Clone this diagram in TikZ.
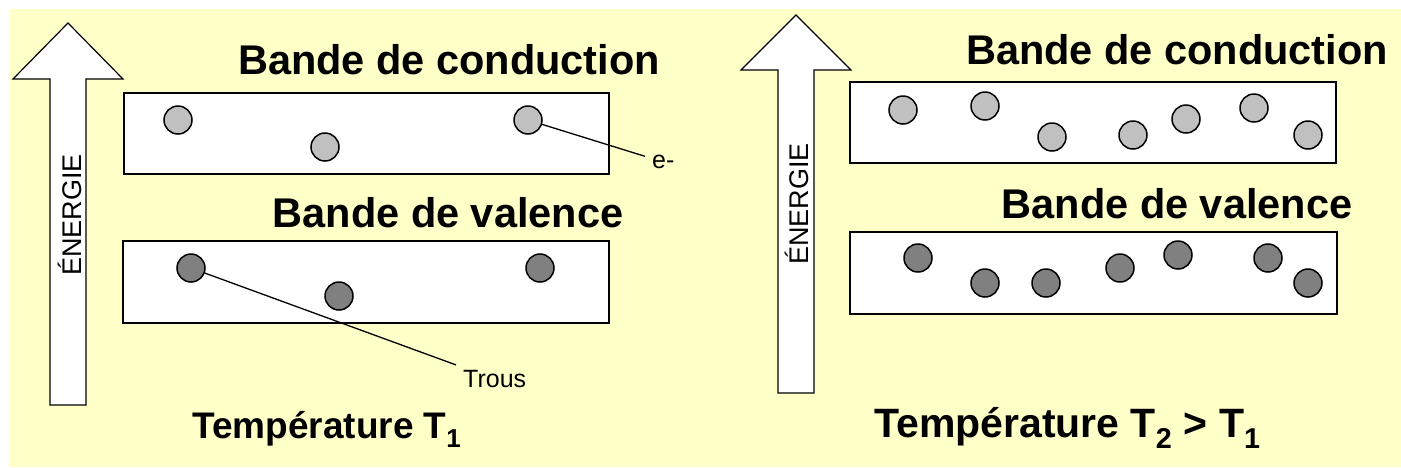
\documentclass[tikz,border=0pt]{standalone}
\usepackage{fontspec}
\setmainfont{Liberation Sans}
\usetikzlibrary{calc}
\definecolor{paper}{HTML}{FFFFC8}
\definecolor{lightgrey}{HTML}{C0C0C0}
\definecolor{darkgrey}{HTML}{808080}
\tikzset{
	band/.style={draw, line width=1.6pt, fill=white},
	electron/.style={circle, draw, line width=1.5pt, fill=lightgrey, minimum size=28pt, inner sep=0pt},
	hole/.style={circle, draw, line width=1.5pt, fill=darkgrey, minimum size=28pt, inner sep=0pt},
	title/.style={font=\fontsize{41.5}{46}\selectfont\bfseries, inner sep=0pt},
	tag/.style={font=\fontsize{25}{28}\selectfont, inner sep=7pt},
	lead/.style={line width=1.3pt}
}
\def\energyarrow(#1,#2,#3,#4){\draw[line width=1.2pt, fill=white] (#1,#2) -- (#1+55,#3) -- (#1+18,#3) -- (#1+18,#4) -- (#1-18,#4) -- (#1-18,#3) -- (#1-55,#3) -- cycle;}

\begin{document}
\begin{tikzpicture}[x=1pt, y=-1pt]
				\useasboundingbox (0, 0) rectangle (1401, 467);
				\fill[white] (0, 0) rectangle (1401, 467);
				\fill[paper] (10, 9) rectangle (1401, 467);
				
				% temperature T1
				\energyarrow(68,23,79,405);
				\node[rotate=90, font=\fontsize{27}{30}\selectfont] (enL) at (70, 215) {ÉNERGIE};
				
				\node[title, anchor=base] (condL) at (449, 74) {Bande de conduction};
				\draw[band] (124, 93) rectangle (609, 174);
				\node[electron] (eL1) at (178, 120) {};
				\node[electron] (eL2) at (325, 147) {};
				\node[electron] (eL3) at (528, 120) {};
				
				\node[title, anchor=base] (valL) at (448, 227) {Bande de valence};
				\draw[band] (123, 241) rectangle (609, 323);
				\node[hole] (hL1) at (191, 268) {};
				\node[hole] (hL2) at (339, 296) {};
				\node[hole] (hL3) at (540, 268) {};
				
				\node[tag, anchor=west] (tagE) at (645, 162) {e-};
				\node[tag, anchor=west] (tagT) at (456, 379) {Trous};
				\draw[lead] (eL3) -- (tagE);
				\draw[lead] (hL1) -- (tagT);
				
				\node[title, font=\fontsize{37}{42}\selectfont\bfseries, anchor=base west] (tempL) at (192, 438) {Température T\textsubscript{1}};
				
				% temperature T2 > T1
				\energyarrow(796,15,70,393);
				\node[rotate=90, font=\fontsize{27}{30}\selectfont] (enR) at (797, 204) {ÉNERGIE};
				
				\node[title, anchor=base] (condR) at (1177, 64) {Bande de conduction};
				\draw[band] (850, 82) rectangle (1336, 163);
				\node[electron] (eR1) at (903, 110) {};
				\node[electron] (eR2) at (985, 106) {};
				\node[electron] (eR3) at (1052, 137) {};
				\node[electron] (eR4) at (1133, 135) {};
				\node[electron] (eR5) at (1186, 119) {};
				\node[electron] (eR6) at (1254, 108) {};
				\node[electron] (eR7) at (1308, 135) {};
				
				\node[title, anchor=base] (valR) at (1177, 218) {Bande de valence};
				\draw[band] (850, 232) rectangle (1337, 314);
				\node[hole] (hR1) at (918, 258) {};
				\node[hole] (hR2) at (985, 283) {};
				\node[hole] (hR3) at (1046, 283) {};
				\node[hole] (hR4) at (1120, 268) {};
				\node[hole] (hR5) at (1178, 255) {};
				\node[hole] (hR6) at (1268, 258) {};
				\node[hole] (hR7) at (1308, 283) {};
				
				\node[title, font=\fontsize{41}{46}\selectfont\bfseries, anchor=base west] (tempR) at (874, 437) {Température T\textsubscript{2} > T\textsubscript{1}};
			\end{tikzpicture}
\end{document}
